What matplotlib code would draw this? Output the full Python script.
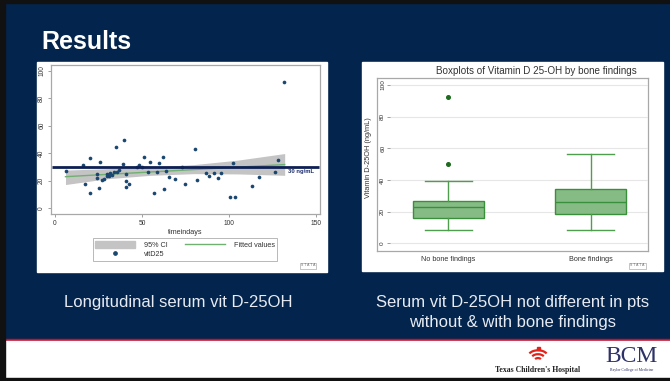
import numpy as np
import matplotlib.pyplot as plt
from matplotlib.patches import Rectangle, Arc
from matplotlib.lines import Line2D
from matplotlib.patches import Patch

W, H = 670, 381
NAVY = '#03244d'

# scatter data
time_days = [6.1, 16.2, 17.1, 20.0, 20.0, 24.0, 24.0, 25.1, 26.0, 27.0, 28.0, 29.9, 29.9,
             30.9, 31.8, 32.8, 33.7, 34.9, 35.8, 36.8, 38.8, 39.8, 41.0, 41.0, 41.0, 42.7,
             47.1, 48.2, 49.9, 51.0, 53.6, 54.8, 56.8, 58.8, 59.8, 61.8, 62.7, 63.7, 65.6,
             68.7, 72.7, 74.7, 80.5, 81.6, 86.6, 88.6, 91.5, 93.6, 95.6, 100.4, 102.5,
             103.4, 113.4, 117.3, 126.4, 128.4, 131.6]
vitD25 = [26.9, 31.4, 17.7, 36.8, 11.3, 24.9, 21.8, 14.6, 33.9, 20.5, 21.2, 25.1, 23.3,
          23.7, 25.5, 24.5, 26.5, 44.8, 26.2, 27.8, 32.3, 49.6, 24.8, 20.2, 15.5, 17.7,
          30.3, 31.5, 29.8, 37.2, 26.5, 33.9, 11.0, 26.5, 33.2, 37.0, 14.0, 27.2, 23.0,
          21.5, 30.3, 18.0, 43.3, 20.7, 25.6, 23.6, 25.9, 22.0, 25.5, 7.9, 32.6, 7.9,
          16.3, 22.7, 26.5, 35.2, 92.0]

# fitted line and 95% CI band
fit_x = [6, 132]
fit_y = [23.0, 31.8]
ci_x = [6, 30, 55, 80, 105, 132]
ci_lo = [17.3, 21.5, 24.0, 25.2, 25.0, 24.0]
ci_hi = [27.8, 28.8, 29.9, 31.8, 35.0, 39.8]
threshold = 30

# boxplot stats (right panel)
groups = ['No bone findings', 'Bone findings']
whislo = [8.3, 8.3]
q1 = [15.8, 18.3]
med = [23.1, 26.0]
q3 = [26.5, 34.1]
whishi = [39.4, 56.4]
fliers = [[49.9, 92.4], []]


def fbox(x0, y0, x1, y1):
    return [x0 / W, 1 - y1 / H, (x1 - x0) / W, (y1 - y0) / H]


fig = plt.figure(figsize=(W / 100, H / 100), dpi=100)
fig.patch.set_facecolor(NAVY)
plt.rcParams['font.family'] = ['Liberation Sans', 'DejaVu Sans']

# slide background in pixel coords
bg = fig.add_axes([0, 0, 1, 1])
bg.set_xlim(0, W)
bg.set_ylim(H, 0)
bg.axis('off')
bg.add_patch(Rectangle((0, 339), W, 2.2, color='#c8102e'))
bg.add_patch(Rectangle((0, 341), W, 37, color='white'))
bg.add_patch(Rectangle((0, 377.5), W, 4, color='#111111'))
bg.add_patch(Rectangle((0, 0), W, 3, color='#111111'))
bg.add_patch(Rectangle((0, 0), 5, H, color='#111111'))
bg.add_patch(Rectangle((36.7, 61.7), 290, 210, color='white'))
bg.add_patch(Rectangle((362.3, 61.7), 301, 209.5, color='white'))

bg.text(41, 42, 'Results', color='white', fontsize=18, fontweight='bold', va='center')
bg.text(178.3, 303, 'Longitudinal serum vit D-25OH', color='#e8ecf2', fontsize=12,
        ha='center', va='center')
bg.text(513, 303, 'Serum vit D-25OH not different in pts', color='#e8ecf2', fontsize=12,
        ha='center', va='center')
bg.text(513, 323, 'without & with bone findings', color='#e8ecf2', fontsize=12,
        ha='center', va='center')

# logos
for r in [3, 6, 9]:
    bg.add_patch(Arc((538, 362 - r * 0.6), r * 2.2, r * 1.4, theta1=200, theta2=340,
                     color='#e2231a', lw=1.6))
bg.add_patch(Rectangle((536.5, 347), 3, 3, color='#e2231a'))
bg.text(538, 370, "Texas Children's Hospital", fontsize=5.6, fontweight='bold',
        family='Liberation Serif', color='#222222', ha='center', va='center')
bg.text(631.5, 357, 'BCM', fontsize=17, family='Liberation Serif', color='#2e3267',
        ha='center', va='center')
bg.text(631.5, 370.5, 'Baylor College of Medicine', fontsize=2.8, family='Liberation Serif',
        color='#2e3267', ha='center', va='center')

# stata marks
for sx in [308, 637.5]:
    bg.text(sx, 265.5, 'S T A T A', fontsize=2.4, color='#666666', ha='center', va='center',
            bbox=dict(boxstyle='square,pad=0.3', fc='white', ec='#999999', lw=0.4))

TXT = '#333333'
FR = '#a8a8a8'

# ---- left panel: scatter over time ----
ax = fig.add_axes(fbox(50.7, 65, 320, 214))
ax.fill_between(ci_x, ci_lo, ci_hi, color='#c4c4c4', lw=0, zorder=1)
ax.plot(fit_x, fit_y, color='#70b070', lw=1.0, zorder=2)
ax.scatter(time_days, vitD25, s=7, color='#1a476f', zorder=3, lw=0)
ax.set_xlim(-2.5, 152.3)
ax.set_ylim(-4.1, 104.1)
ax.set_xticks([0, 50, 100, 150])
ax.set_yticks([0, 20, 40, 60, 80, 100])
ax.tick_params(labelsize=4.8, labelcolor=TXT, color='#777777', length=2.5, width=0.5, pad=1.5)
for lab in ax.get_yticklabels():
    lab.set_rotation(90)
    lab.set_va('center')
for sp in ax.spines.values():
    sp.set_color(FR)
    sp.set_linewidth(0.9)
ax.set_xlabel('timeindays', fontsize=5.2, color=TXT, labelpad=1.5)

# 30 ng/mL reference line
ax.plot([-1.8, 151.5], [threshold, threshold], color='#0d1f54', lw=2.0, zorder=4,
        solid_capstyle='butt')
ax.text(134, threshold - 3.3, '30 ng/mL', fontsize=4.2, fontweight='bold', color='#1f2d6b',
        va='center', ha='left', zorder=5)

handles = [Patch(color='#c4c4c4', label='95% CI'),
           Line2D([], [], marker='o', ls='none', ms=2.4, color='#1a476f', label='vitD25'),
           Line2D([], [], color='#70b070', lw=1.0, label='Fitted values')]
leg = fig.legend(handles=handles, ncol=2, loc='center',
                 bbox_to_anchor=(185 / W, 1 - 249.5 / H), fontsize=5.2, frameon=True,
                 fancybox=False, edgecolor='#999999', handlelength=5.5, handleheight=1.2,
                 columnspacing=2.5, labelspacing=0.2, borderpad=0.35, handletextpad=1.2)
leg.get_frame().set_linewidth(0.6)
for t in leg.get_texts():
    t.set_color(TXT)

# ---- right panel: boxplots ----
frame = fig.add_axes(fbox(376.7, 77.7, 648.3, 250.7))
frame.set_xticks([])
frame.set_yticks([])
for sp in frame.spines.values():
    sp.set_color(FR)
    sp.set_linewidth(0.9)

bx = fig.add_axes(fbox(390, 77.7, 648.3, 250.7))
bx.patch.set_alpha(0)
stats = []
for i in range(len(groups)):
    stats.append(dict(label=groups[i], whislo=whislo[i], q1=q1[i], med=med[i], q3=q3[i],
                      whishi=whishi[i], fliers=fliers[i]))
GREEN = '#3a8f3a'
bx.bxp(stats, positions=[1, 2], widths=0.5, patch_artist=True,
       boxprops=dict(facecolor='#86bb86', edgecolor=GREEN, lw=1.0),
       medianprops=dict(color=GREEN, lw=1.0),
       whiskerprops=dict(color='#4e9e4e', lw=1.0),
       capprops=dict(color='#4e9e4e', lw=1.0),
       capwidths=0.33,
       flierprops=dict(marker='o', markersize=2.6, markerfacecolor='#1e6b1e',
                       markeredgecolor='#1e6b1e'))
bx.set_xlim(0.59, 2.404)
bx.set_ylim(-4.7, 104.6)
bx.set_yticks([0, 20, 40, 60, 80, 100])
bx.yaxis.grid(True, color='#e6e6e6', lw=0.8)
bx.set_axisbelow(True)
bx.tick_params(axis='y', labelsize=4.6, labelcolor=TXT, color='#777777', length=2,
               width=0.5, pad=1.5)
bx.tick_params(axis='x', length=0, labelsize=5.2, labelcolor=TXT, pad=4)
for lab in bx.get_yticklabels():
    lab.set_rotation(90)
    lab.set_va('center')
for sp in bx.spines.values():
    sp.set_visible(False)

bg.text(368, 158, 'Vitamin D-25OH (ng/mL)', fontsize=5.3, color=TXT, rotation=90,
        ha='center', va='center')
bg.text(536, 71, 'Boxplots of Vitamin D 25-OH by bone findings', fontsize=7.1,
        color=TXT, ha='center', va='center')

fig.savefig('out.png', dpi=100, facecolor=fig.get_facecolor())
